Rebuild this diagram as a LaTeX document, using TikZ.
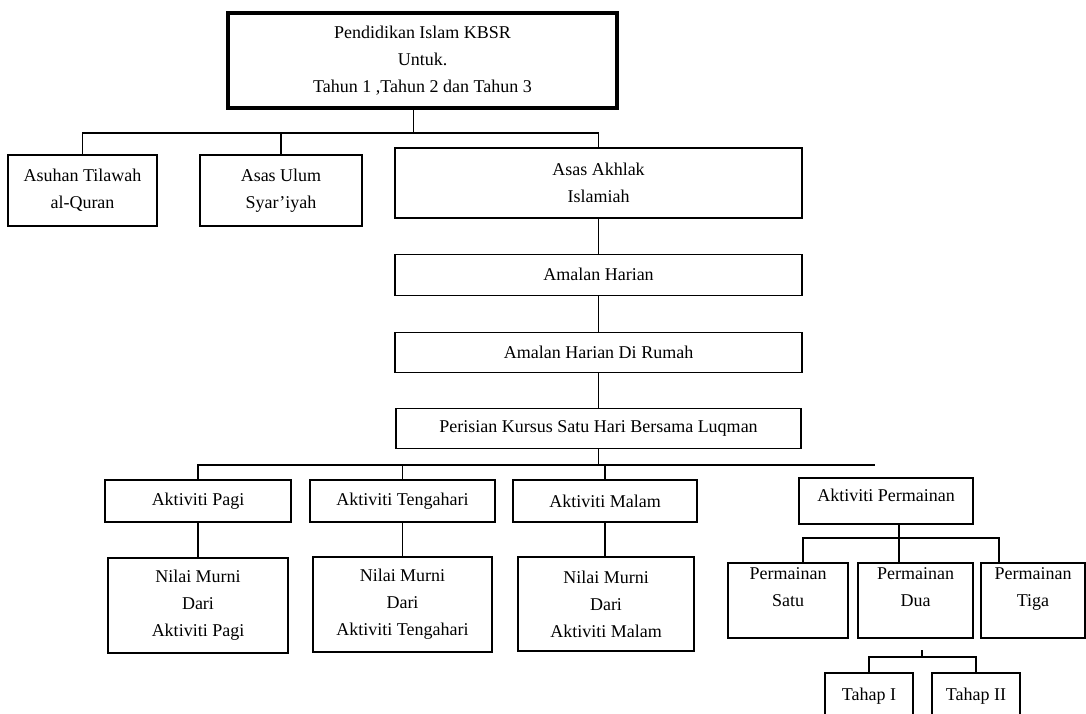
\documentclass[tikz,border=0pt]{standalone}
\usepackage{fontspec}
\setmainfont{Liberation Serif}
\usetikzlibrary{positioning}

\begin{document}
\begin{tikzpicture}[x=1pt,y=-1pt,
    b/.style={draw,line width=1.2pt,fill=white,align=center,inner sep=2pt,font=\fontsize{18}{27}\selectfont},
    hd/.style={b,line width=4pt},
    l/.style={line width=1.2pt}]
  \clip (0,0) rectangle (1086,713);
  \fill[white] (0,0) rectangle (1086,713);
  % tajuk dan tiga cabang utama
  \node[hd,minimum width=389pt,minimum height=95pt] (judul) at (422.5,60.5) {Pendidikan Islam KBSR\\Untuk.\\Tahun 1 ,Tahun 2 dan Tahun 3};
  \node[b,minimum width=149pt,minimum height=71pt] (asuhan) at (82.5,190.5) {Asuhan Tilawah\\al-Quran};
  \node[b,minimum width=162pt,minimum height=71pt] (ulum) at (281,190.5) {Asas Ulum\\Syar'iyah};
  \node[b,minimum width=407pt,minimum height=70pt] (akhlak) at (598.5,183) {Asas Akhlak\\Islamiah};
  \node[b,minimum width=407pt,minimum height=41pt,below=35pt of akhlak] (amalan) {Amalan Harian};
  \node[b,minimum width=407pt,minimum height=40pt,below=36pt of amalan] (rumah) {Amalan Harian Di Rumah};
  \node[b,minimum width=405pt,minimum height=40pt,below=35pt of rumah] (perisian) {Perisian Kursus Satu Hari Bersama Luqman};
  % aktiviti
  \node[b,minimum width=186pt,minimum height=42pt] (pagi) at (198,501) {Aktiviti Pagi};
  \node[b,minimum width=185pt,minimum height=42pt] (tengah) at (402.5,501) {Aktiviti Tengahari};
  \node[b,minimum width=184pt,minimum height=42pt] (malam) at (605,501) {Aktiviti Malam};
  \node[b,minimum width=174pt,minimum height=46pt,text height=18pt,text depth=18pt] (permainan) at (886,501) {Aktiviti Permainan};
  \node[b,minimum width=180pt,minimum height=95pt] (nPagi) at (198,605.5) {Nilai Murni\\Dari\\Aktiviti Pagi};
  \node[b,minimum width=179pt,minimum height=95pt] (nTengah) at (402.5,604.5) {Nilai Murni\\Dari\\Aktiviti Tengahari};
  \node[b,minimum width=176pt,minimum height=94pt] (nMalam) at (606,604) {Nilai Murni\\Dari\\Aktiviti Malam};
  % permainan
  \node[b,minimum width=120pt,minimum height=75pt] (satu) at (788,600.5) {Permainan\\Satu\\~};
  \node[b,minimum width=115pt,minimum height=75pt] (dua) at (915.5,600.5) {Permainan\\Dua\\~};
  \node[b,minimum width=104pt,minimum height=75pt] (tiga) at (1033,600.5) {Permainan\\Tiga\\~};
  \node[b,minimum width=88pt,minimum height=46pt] (tahapI) at (869,696) {Tahap I};
  \node[b,minimum width=88pt,minimum height=46pt] (tahapII) at (976,696) {Tahap II};

  \draw[l] ([xshift=-9pt]judul.south) -- ++(0,23) coordinate (bus1);
  \draw[l] (asuhan.north) |- (bus1);
  \draw[l] (ulum.north) -- (ulum.north |- bus1);
  \draw[l] (akhlak.north) |- (bus1);
  \foreach \a/\c in {akhlak/amalan,amalan/rumah,rumah/perisian,pagi/nPagi,tengah/nTengah,malam/nMalam}
    \draw[l] (\a.south) -- (\a.south |- \c.north);
  \coordinate (ujung) at (875,465);
  \draw[l] (pagi.north) |- (ujung);
  \foreach \n in {perisian.south,tengah.north,malam.north}
    \draw[l] (\n) -- (\n |- ujung);
  \coordinate (pk) at (899,538);
  \draw[l] (permainan.south -| pk) -- (dua.north -| pk);
  \draw[l] ([xshift=15pt]satu.north) |- (pk) -| ([xshift=-34pt]tiga.north);
  \coordinate (tk) at (922,657);
  \draw[l] (tahapI.north) |- (tk) -| (tahapII.north);
  \draw[l] (tk) -- ++(0,-7);
\end{tikzpicture}
\end{document}
